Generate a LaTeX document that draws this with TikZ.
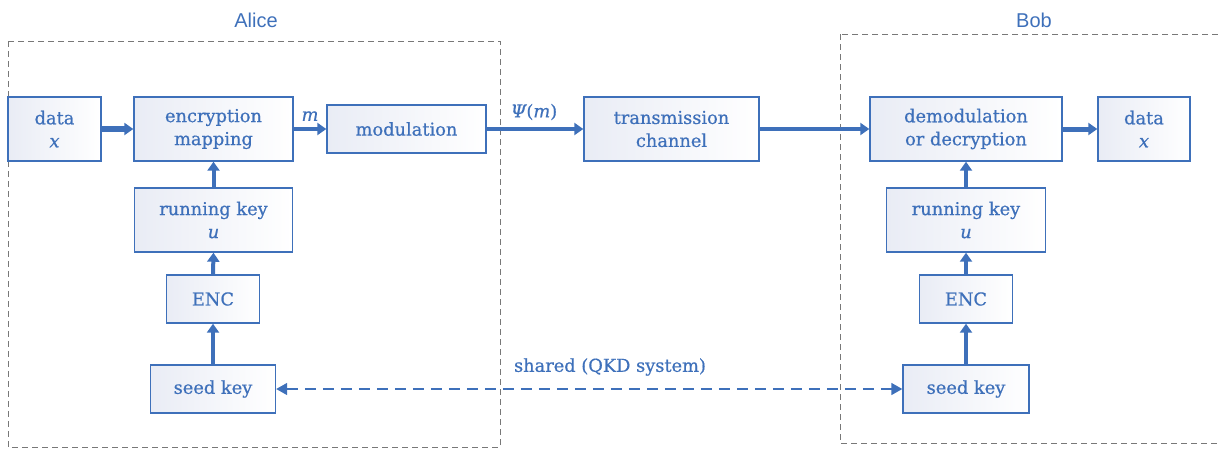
\documentclass[tikz,border=0pt]{standalone}
\usepackage{fontspec}
\setmainfont{DejaVu Serif}[FakeBold=0.6, ItalicFeatures={FakeBold=0.6}]
\newfontfamily\labelfont{Liberation Sans}
\usetikzlibrary{arrows.meta}
\definecolor{bcol}{RGB}{62,112,186}
\definecolor{dcol}{RGB}{120,120,120}
\definecolor{shadecol}{RGB}{233,236,245}
\newcommand{\vv}[1]{{\itshape #1}}
\tikzset{
  blk/.style={draw=bcol, line width=1.4pt, left color=shadecol, right color=white,
    text=bcol, align=center, inner sep=0pt, font=\fontsize{17.8}{23}\selectfont},
  grp/.style={draw=dcol, line width=1pt, dash pattern=on 6pt off 4pt},
  thick arrow/.style={draw=bcol, line width=4pt, -{Triangle[length=9pt,width=12pt]}},
  dash arrow/.style={draw=bcol, line width=1.5pt, dash pattern=on 11pt off 7pt,
    {Triangle[length=11pt,width=12pt]}-{Triangle[length=11pt,width=12pt]}},
  lbl/.style={text=bcol, font=\fontsize{17.8}{23}\selectfont, inner sep=0pt},
  grplbl/.style={text=bcol, font=\labelfont\fontsize{20}{22}\selectfont, inner sep=0pt}
}
\begin{document}
\begin{tikzpicture}[x=1pt,y=-1pt]
\useasboundingbox (0,0) rectangle (1218,448);
% group boxes
\draw[grp] (8,41) rectangle (500,447);
\draw[grp] (840,34) rectangle (1230,443);
\node[grplbl] (alice) at (256,20) {Alice};
\node[grplbl] (bob) at (1034,20) {Bob};
% Alice blocks
\node[blk, minimum width=93pt, minimum height=64pt] (dataL) at (54.5,129) {data\\\vv{x}};
\node[blk, minimum width=159pt, minimum height=64pt] (enc) at (213.5,129) {encryption\\mapping};
\node[blk, minimum width=159pt, minimum height=48pt] (mod) at (406.5,129) {modulation};
\node[blk, minimum width=158pt, minimum height=64pt] (rkL) at (213.5,220) {running key\\\vv{u}};
\node[blk, minimum width=93pt, minimum height=48pt] (encL) at (213,299) {ENC};
\node[blk, minimum width=125pt, minimum height=48pt] (seedL) at (213,389) {seed key};
% channel
\node[blk, minimum width=175pt, minimum height=64pt] (trans) at (671.5,129) {transmission\\channel};
% Bob blocks
\node[blk, minimum width=192pt, minimum height=64pt] (demod) at (966,129) {demodulation\\or decryption};
\node[blk, minimum width=92pt, minimum height=64pt] (dataR) at (1144,129) {data\\\vv{x}};
\node[blk, minimum width=159pt, minimum height=64pt] (rkR) at (966,220) {running key\\\vv{u}};
\node[blk, minimum width=93pt, minimum height=48pt] (encR) at (966,299) {ENC};
\node[blk, minimum width=126pt, minimum height=48pt] (seedR) at (966,389) {seed key};
% arrows
\draw[thick arrow, line width=5.5pt] (dataL.east) -- (enc.west);
\draw[thick arrow] (enc.east) -- (mod.west);
\draw[thick arrow] (mod.east) -- (trans.west);
\draw[thick arrow] (trans.east) -- (demod.west);
\draw[thick arrow, line width=5pt] (demod.east) -- (dataR.west);
\draw[thick arrow] (rkL.north) -- (enc.south);
\draw[thick arrow] (encL.north) -- (rkL.south);
\draw[thick arrow] (seedL.north) -- (encL.south);
\draw[thick arrow] (rkR.north) -- (demod.south);
\draw[thick arrow] (encR.north) -- (rkR.south);
\draw[thick arrow] (seedR.north) -- (encR.south);
\draw[dash arrow] (seedL.east) -- (seedR.west);
% labels
\node[lbl] (mlbl) at (310,116) {\vv{m}};
\node[lbl] (psilbl) at (534,112) {\vv{Ψ}(\vv{m})};
\node[lbl] (shared) at (610,367) {shared (QKD system)};
\end{tikzpicture}
\end{document}
